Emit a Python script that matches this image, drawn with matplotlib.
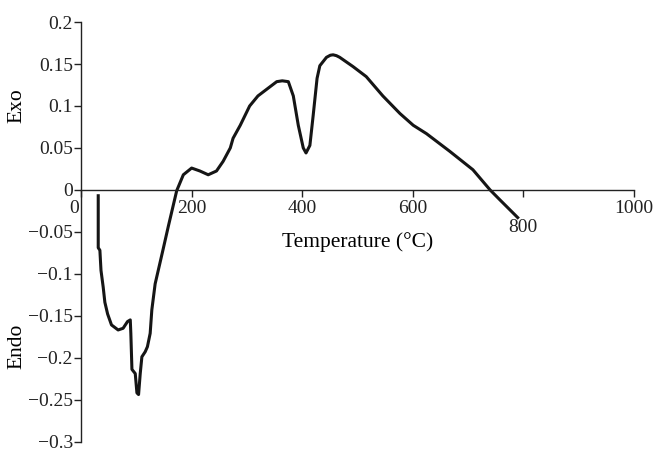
import matplotlib
matplotlib.use("Agg")
import matplotlib.pyplot as plt
import matplotlib.transforms as mtransforms

plt.rcParams.update({"font.family": "Liberation Serif", "font.size": 14,
                     "axes.unicode_minus": True})

# DTA curve
temp = [31, 31, 34, 36, 40, 43, 48, 55, 67, 76, 84, 89, 90, 92, 98, 101, 104, 107,
        110, 116, 120, 125, 128, 134, 148, 158, 173, 185, 200, 215, 230, 245, 257,
        270, 275, 288, 305, 320, 336, 354, 364, 375, 384, 393, 402, 407, 414, 420,
        427, 432, 444, 451, 456, 462, 468, 492, 516, 546, 577, 601, 625, 667, 709,
        740, 758, 790]
signal = [-0.007, -0.069, -0.072, -0.096, -0.116, -0.134, -0.148, -0.161, -0.167,
          -0.165, -0.157, -0.155, -0.171, -0.214, -0.219, -0.242, -0.244, -0.219,
          -0.199, -0.193, -0.187, -0.171, -0.143, -0.112, -0.072, -0.043, -0.001,
          0.018, 0.026, 0.0225, 0.018, 0.0225, 0.034, 0.05, 0.0615, 0.077, 0.1,
          0.112, 0.12, 0.129, 0.130, 0.129, 0.112, 0.077, 0.05, 0.044, 0.053, 0.089,
          0.133, 0.148, 0.158, 0.1605, 0.161, 0.160, 0.158, 0.147, 0.135, 0.112,
          0.091, 0.077, 0.067, 0.046, 0.024, 0.0, -0.012, -0.033]

xticks = [0, 200, 400, 600, 800, 1000]
yticks = [0.2, 0.15, 0.1, 0.05, 0, -0.05, -0.1, -0.15, -0.2, -0.25, -0.3]
ylabels = ["0.2", "0.15", "0.1", "0.05", "0", "\u22120.05", "\u22120.1",
           "\u22120.15", "\u22120.2", "\u22120.25", "\u22120.3"]

fig = plt.figure(figsize=(6.54, 4.51), dpi=100)
ax = fig.add_axes([0.124, 0.021, 0.845, 0.930])
ax.plot(temp, signal, color="#151515", lw=2.2, solid_joinstyle="round")

ax.set_xlim(0, 1000)
ax.set_ylim(-0.3, 0.2)
ax.spines["top"].set_visible(False)
ax.spines["right"].set_visible(False)
ax.spines["bottom"].set_position(("data", 0))
for sp in ("left", "bottom"):
    ax.spines[sp].set_linewidth(1.0)
    ax.spines[sp].set_color("#222222")

ax.set_xticks(xticks)
ax.set_xticklabels([str(t) for t in xticks])
ax.set_yticks(yticks)
ax.set_yticklabels(ylabels)
ax.tick_params(axis="x", direction="out", length=5, width=1, pad=2, colors="#222222")
ax.tick_params(axis="y", direction="out", length=5, width=1, pad=1, colors="#222222")

# shift the "0" and "800" labels as in the original
labs = ax.get_xticklabels()
labs[0].set_transform(labs[0].get_transform() +
                      mtransforms.ScaledTranslation(-7 / 100, 0, fig.dpi_scale_trans))
labs[4].set_transform(labs[4].get_transform() +
                      mtransforms.ScaledTranslation(0, -19 / 100, fig.dpi_scale_trans))

ax.set_xlabel("Temperature (\u00b0C)", fontsize=15.5)
ax.xaxis.set_label_coords(0.501, 0.5)

fig.text(0.026, 0.765, "Exo", rotation=90, ha="center", va="center", fontsize=15.5)
fig.text(0.026, 0.233, "Endo", rotation=90, ha="center", va="center", fontsize=15.5)

fig.savefig("out.png", dpi=100)
